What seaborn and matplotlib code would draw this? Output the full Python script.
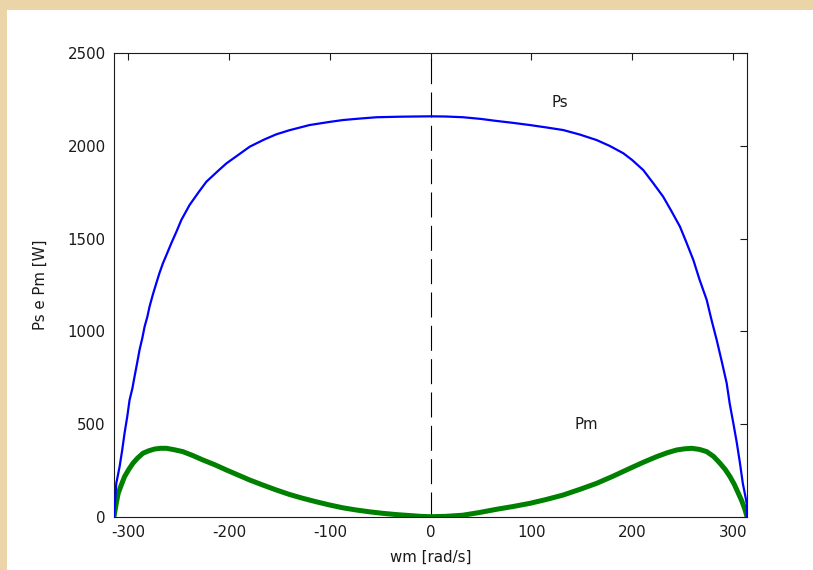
import pandas as pd
import matplotlib
matplotlib.use("Agg")
import matplotlib.pyplot as plt
from matplotlib.patches import Rectangle
import seaborn as sns

# values
wm_ps = [-314.16, -311.9, -308.6, -306.0, -303.7, -301.0, -298.7, -296.0, -293.8,
         -291.0, -288.8, -286.0, -283.8, -281.0, -278.9, -275.5, -272.2, -269.0,
         -265.6, -261.5, -257.3, -252.0, -247.3, -239.1, -230.0, -222.5, -210.0,
         -202.6, -190.0, -179.5, -165.0, -153.0, -140.0, -120.0, -100.0, -86.8,
         -70.0, -53.6, -30.0, 0.0, 15.0, 32.4, 50.0, 65.6, 80.0, 98.6, 115.0,
         131.7, 148.0, 164.9, 178.0, 191.3, 200.0, 211.2, 221.0, 231.0, 239.0,
         247.6, 254.0, 260.9, 267.0, 274.2, 279.0, 284.1, 289.0, 294.0, 297.0,
         300.6, 304.0, 307.2, 310.0, 313.9, 314.16]
ps = [0, 180, 270, 360, 450, 540, 630, 690, 755,
      835, 900, 965, 1025, 1080, 1133, 1200, 1259, 1315,
      1367, 1420, 1475, 1540, 1601, 1682, 1752, 1807, 1870,
      1906, 1955, 1996, 2035, 2063, 2085, 2113, 2130, 2140,
      2148, 2155, 2158, 2160, 2159, 2155, 2146, 2135, 2126, 2113, 2100,
      2086, 2062, 2032, 2000, 1961, 1925, 1870, 1800, 1726, 1650,
      1565, 1480, 1385, 1280, 1169, 1060, 953, 840, 720, 610,
      504, 400, 288, 180, 72, 0]

wm_pm = [-314.16, -312.0, -310.0, -307.0, -303.7, -299.5, -295.4, -291.0, -285.5,
         -280.0, -273.9, -268.0, -262.2, -255.0, -245.8, -236.0, -225.9, -214.0,
         -202.6, -191.0, -179.5, -166.0, -153.0, -140.0, -126.6, -113.0, -100.0,
         -87.0, -73.5, -60.0, -47.0, -33.0, -20.0, -10.0, 0.0,
         15.0, 32.0, 48.0, 65.6, 82.0, 98.6, 115.0, 131.7, 148.0, 164.9, 181.0,
         198.0, 211.0, 224.5, 235.0, 244.4, 252.0, 259.3, 267.0, 274.2, 281.0,
         287.4, 292.5, 297.3, 301.5, 305.6, 309.0, 312.3, 314.16]
pm = [0, 70, 126, 170, 216, 255, 288, 315, 342,
      355, 365, 369, 369, 362, 351, 330, 306, 280,
      252, 225, 198, 170, 144, 120, 99, 80, 63,
      48, 36, 26, 18, 11, 6, 2, 0,
      2, 8, 22, 40, 55, 72, 93, 117, 147, 180, 218,
      261, 293, 324, 345, 360, 366, 369, 363, 351, 325,
      288, 255, 216, 175, 126, 85, 36, 0]

x_ticks = [-300, -200, -100, 0, 100, 200, 300]
y_ticks = [0, 500, 1000, 1500, 2000, 2500]

df_ps = pd.DataFrame({"wm": wm_ps, "P": ps})
df_pm = pd.DataFrame({"wm": wm_pm, "P": pm})

sns.set_style("white")
plt.rcParams["font.family"] = ["DejaVu Sans"]
plt.rcParams["axes.unicode_minus"] = False

fig = plt.figure(figsize=(8.13, 5.7), dpi=100)
fig.patch.set_facecolor("#ebd5a8")
# white figure panel on the parchment, kept behind the axes
fig.patches.append(Rectangle((7 / 813, 0), 1, 560 / 570, transform=fig.transFigure,
                             facecolor="white", edgecolor="none", zorder=-10))

ax = fig.add_axes([114 / 813, 53.3 / 570, 633 / 813, 463.4 / 570])
ax.set_facecolor("white")

ax.axvline(0, color="black", lw=0.8, linestyle=(0, (22.5, 7.5)), zorder=1)
sns.lineplot(data=df_ps, x="wm", y="P", ax=ax, color="#0000ff", lw=1.6,
             sort=False, zorder=3)
sns.lineplot(data=df_pm, x="wm", y="P", ax=ax, color="#008000", lw=3.6,
             sort=False, zorder=2)

ax.text(120.2, 2232, "Ps", ha="left", va="center", fontsize=10.8, color="#1a1a1a")
ax.text(143.3, 495, "Pm", ha="left", va="center", fontsize=10.8, color="#1a1a1a")

ax.set_xlim(-314.16, 314.16)
ax.set_ylim(0, 2500)
ax.set_xticks(x_ticks)
ax.set_yticks(y_ticks)
ax.tick_params(direction="in", length=5, width=0.8, colors="#1a1a1a",
               labelsize=10.8, top=True, right=True)
ax.tick_params(axis="x", pad=6)
ax.tick_params(axis="y", pad=6)
for s in ax.spines.values():
    s.set_color("#1a1a1a")
    s.set_linewidth(0.8)

ax.set_xlabel("wm [rad/s]", fontsize=10.8, color="#1a1a1a")
ax.set_ylabel("Ps e Pm [W]", fontsize=10.8, color="#1a1a1a")
ax.xaxis.set_label_coords(0.5, -0.072)
ax.yaxis.set_label_coords(-0.104, 0.5)

fig.savefig("out.png", dpi=100, facecolor=fig.get_facecolor())
